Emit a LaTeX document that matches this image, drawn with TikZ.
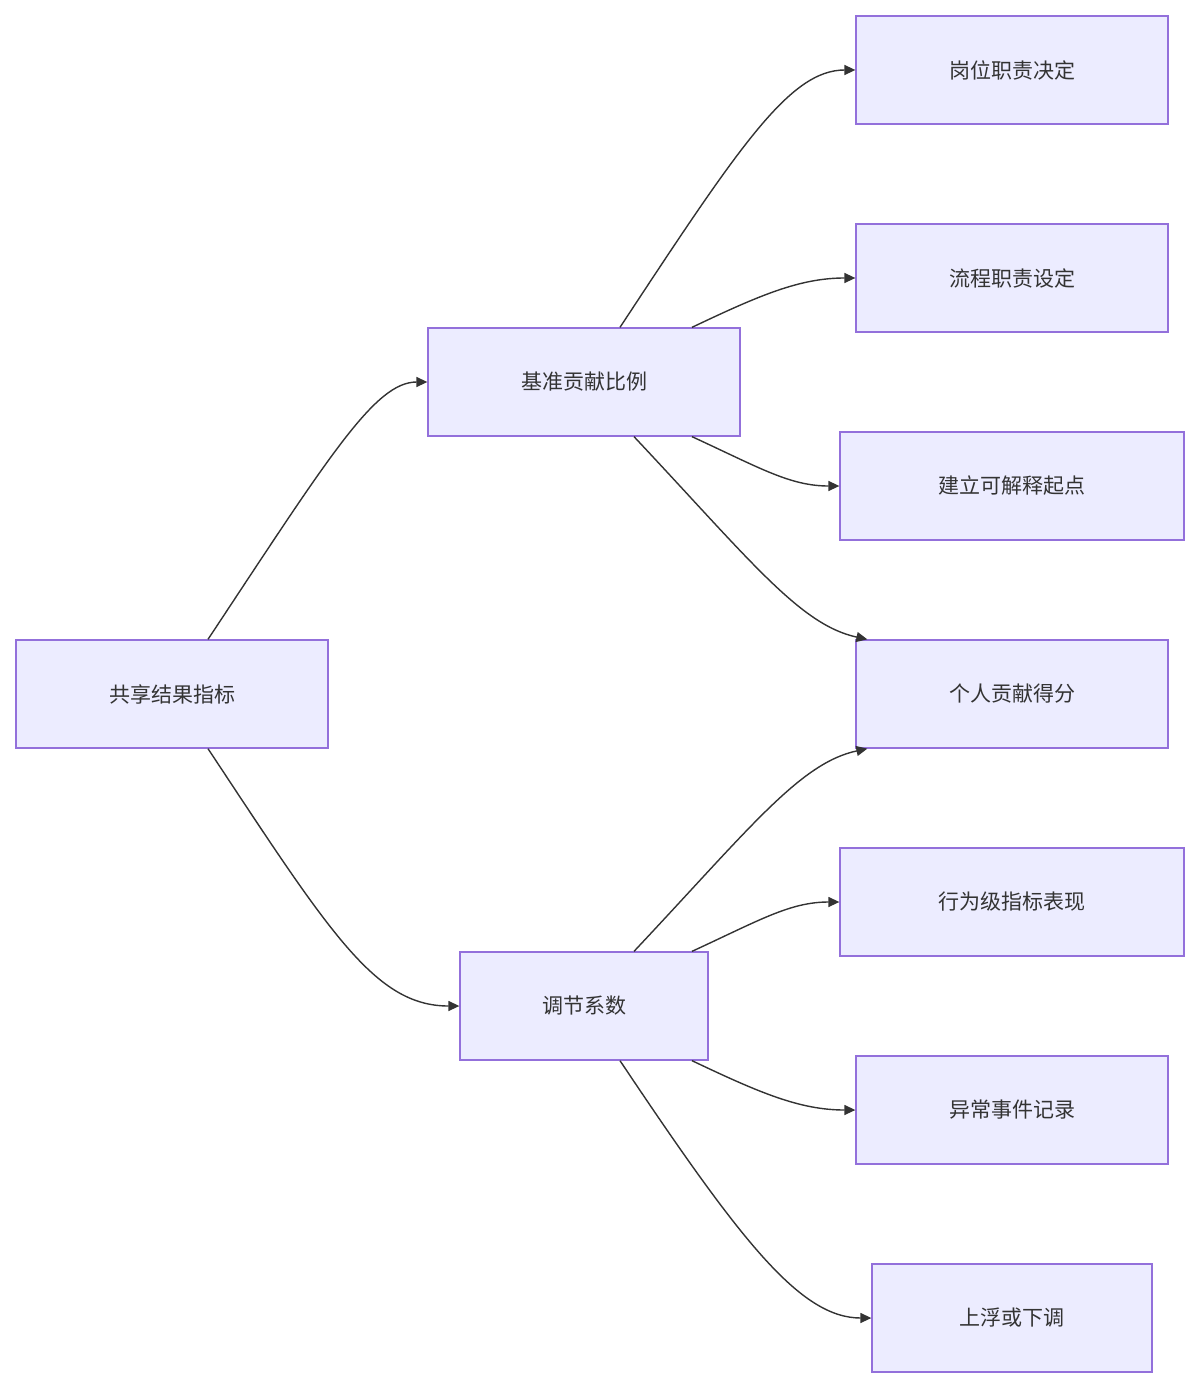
\documentclass[tikz,border=0pt]{standalone}
\usepackage{fontspec}
\setmainfont{Noto Sans CJK SC}
\usetikzlibrary{arrows.meta}
\definecolor{nodefill}{HTML}{ECECFF}
\definecolor{nodeline}{HTML}{9370DB}
\definecolor{edge}{HTML}{333333}
\begin{document}
\begin{tikzpicture}[x=1pt,y=-1pt,
  box/.style={draw=nodeline,fill=nodefill,line width=1.3pt,minimum height=108pt,inner sep=0pt,font=\fontsize{21}{25}\selectfont,text=edge},
  conn/.style={draw=edge,line width=1.4pt,-{Triangle[length=11pt,width=10pt]}}]
\useasboundingbox (0,0) rectangle (1200,1388);
\node[box,minimum width=312pt] (A) at (172,694) {共享结果指标};
\node[box,minimum width=312pt] (B) at (584,382) {基准贡献比例};
\node[box,minimum width=248pt] (C) at (584,1006) {调节系数};
\node[box,minimum width=312pt] (D) at (1012,70) {岗位职责决定};
\node[box,minimum width=312pt] (E) at (1012,278) {流程职责设定};
\node[box,minimum width=344pt] (F) at (1012,486) {建立可解释起点};
\node[box,minimum width=312pt] (G) at (1012,694) {个人贡献得分};
\node[box,minimum width=344pt] (H) at (1012,902) {行为级指标表现};
\node[box,minimum width=312pt] (I) at (1012,1110) {异常事件记录};
\node[box,minimum width=280pt] (J) at (1012,1318) {上浮或下调};
\path[conn] ([xshift=36pt]A.north) .. controls (330,455) and (375,382) .. (B.west);
\path[conn] ([xshift=36pt]A.south) .. controls (330,933) and (375,1006) .. (C.west);
\path[conn] ([xshift=36pt]B.north) .. controls (740,145) and (790,70) .. (D.west);
\path[conn] ([xshift=108pt]B.north) .. controls (760,295) and (800,278) .. (E.west);
\path[conn] ([xshift=108pt]B.south) .. controls (760,468) and (790,486) .. (F.west);
\path[conn] ([xshift=50pt]B.south) .. controls (750,560) and (800,625) .. ([xshift=12pt]G.north west);
\path[conn] ([xshift=50pt]C.north) .. controls (750,828) and (800,763) .. ([xshift=12pt]G.south west);
\path[conn] ([xshift=108pt]C.north) .. controls (760,920) and (790,902) .. (H.west);
\path[conn] ([xshift=108pt]C.south) .. controls (760,1093) and (800,1110) .. (I.west);
\path[conn] ([xshift=36pt]C.south) .. controls (740,1240) and (800,1318) .. (J.west);
\end{tikzpicture}
\end{document}
